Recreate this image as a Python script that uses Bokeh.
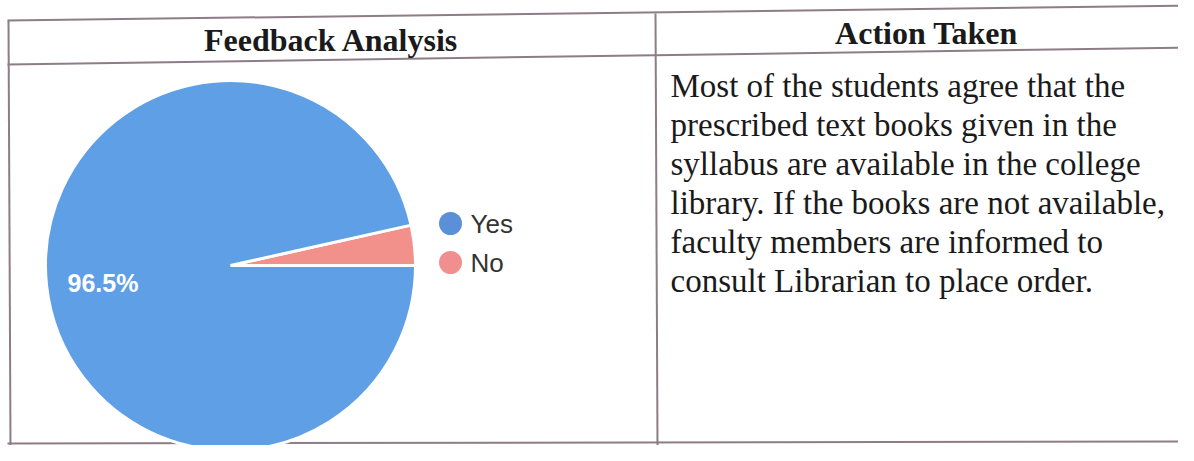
import math
from bokeh.plotting import figure
from bokeh.models import Range1d, ColumnDataSource
from bokeh.core.properties import value
from bokeh.embed import file_html
from bokeh.resources import INLINE

# ---- data ----
categories = ["Yes", "No"]
percent = [96.5, 3.5]
pie_colors = ["#5f9fe6", "#f2918b"]
legend_colors = ["#5b8fd8", "#f0908e"]

header_left = "Feedback Analysis"
header_right = "Action Taken"
action_lines = [
    "Most of the students agree that the",
    "prescribed text books given in the",
    "syllabus are available in the college",
    "library. If the books are not available,",
    "faculty members are informed to",
    "consult Librarian to place order.",
]

W, H = 1178, 445
p = figure(width=W, height=H, x_range=Range1d(0, W), y_range=Range1d(0, H),
           output_backend="svg", toolbar_location=None, x_axis_type=None, y_axis_type=None,
           min_border=0, min_border_left=0, min_border_right=0, min_border_top=0, min_border_bottom=0)
p.grid.visible = False
p.outline_line_color = None
p.background_fill_color = "white"
p.border_fill_color = "white"


def Y(s):
    return H - s


# ---- table lines (slightly skewed like the scan) ----
lc = "#8c7d86"
p.segment(x0=[7, 7, 7, 8, 655], y0=[Y(20), Y(64), Y(443), Y(20), Y(13)],
          x1=[1194, 1194, 1194, 10, 657], y1=[Y(5), Y(47), Y(441), Y(445), Y(445)],
          line_color=lc, line_width=2)

# ---- headers ----
p.text(x=[331], y=[Y(39)], text=[header_left], text_font=value("Liberation Serif"),
       text_font_style="bold", text_font_size="32px", text_align="center",
       text_baseline="middle", text_color="#1a1a1a")
p.text(x=[926], y=[Y(32)], text=[header_right], text_font=value("Liberation Serif"),
       text_font_style="bold", text_font_size="32px", text_align="center",
       text_baseline="middle", text_color="#1a1a1a")

# ---- pie ----
total = sum(percent)
# "No" slice starts at 0 rad going counter-clockwise, "Yes" fills the rest
order = [1, 0]
starts, ends, cols = [], [], []
acc = 0.0
for i in order:
    a0 = acc / total * 2 * math.pi
    acc += percent[i]
    a1 = acc / total * 2 * math.pi
    starts.append(a0)
    ends.append(a1)
    cols.append(pie_colors[i])
src = ColumnDataSource(dict(start=starts, end=ends, color=cols,
                            x=[230] * 2, y=[Y(265)] * 2))
p.wedge(x="x", y="y", radius=185, radius_units="screen", start_angle="start",
        end_angle="end", fill_color="color", line_color="white", line_width=3,
        source=src)

p.text(x=[67], y=[Y(282)], text=[f"{percent[0]}%"], text_font=value("Liberation Sans"),
       text_font_style="bold", text_font_size="25px", text_color="white",
       text_align="left", text_baseline="middle")

# ---- legend ----
ly = [Y(223), Y(262)]
p.scatter(x=[450, 450], y=ly, size=23, fill_color=legend_colors, line_color=None)
p.text(x=[470, 470], y=ly, text=categories, text_font=value("Liberation Sans"),
       text_font_size="26px", text_color="#333333", text_align="left",
       text_baseline="middle")

# ---- action text ----
bl = [85 + 39 * i for i in range(len(action_lines))]
p.text(x=[670] * len(action_lines), y=[Y(b) for b in bl], text=action_lines,
       text_font=value("Liberation Serif"), text_font_size="33px",
       text_color="#1a1a1a", text_align="left", text_baseline="alphabetic")

open("out.html", "w").write(file_html(p, INLINE))
